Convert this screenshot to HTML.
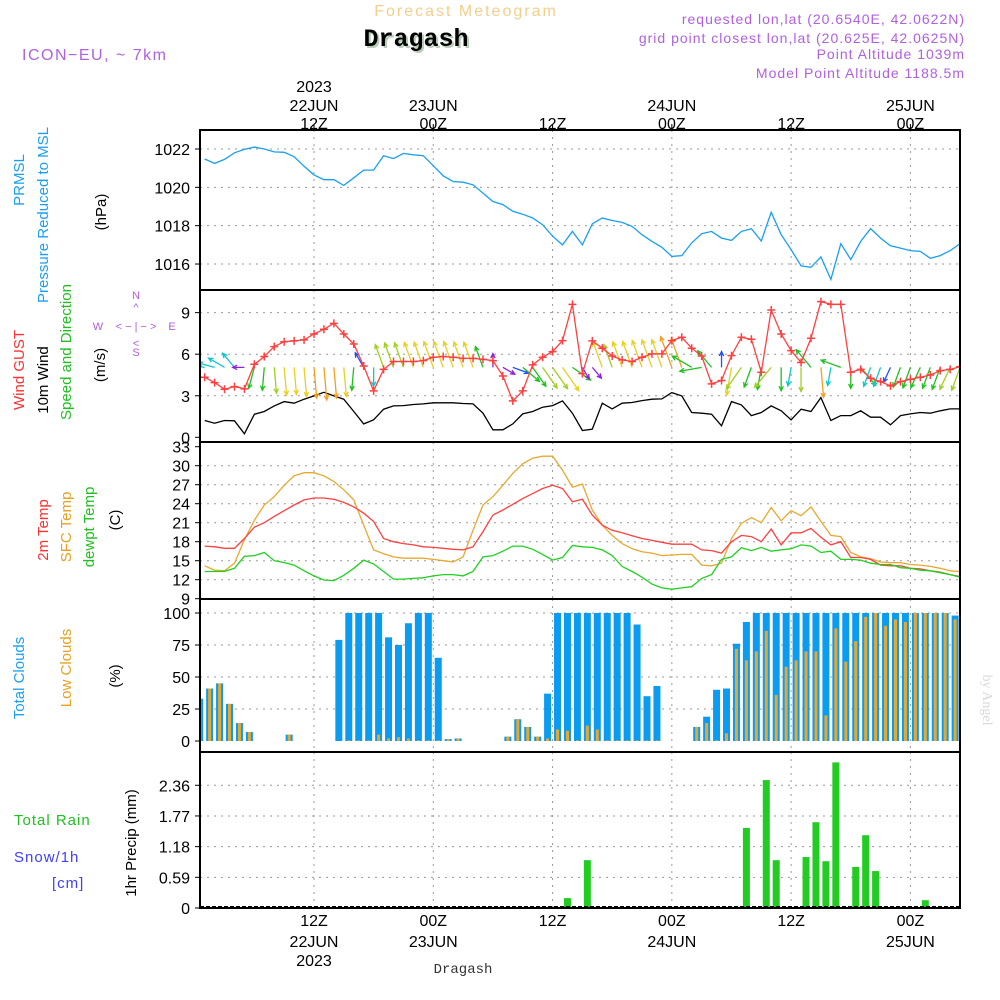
<!DOCTYPE html>
<html><head><meta charset="utf-8"><style>
html,body{margin:0;padding:0;background:#fff;}
svg{display:block;font-family:"Liberation Sans",sans-serif;}
</style></head><body>
<svg id="chart" width="1000" height="1000" viewBox="0 0 1000 1000" xmlns="http://www.w3.org/2000/svg">
<defs>
<clipPath id="clipP"><rect x="200" y="130" width="760" height="160"/></clipPath>
<clipPath id="clipW"><rect x="200" y="290" width="760" height="152"/></clipPath>
<clipPath id="clipT"><rect x="200" y="442" width="760" height="157"/></clipPath>
<clipPath id="clipC"><rect x="200" y="599" width="760" height="153"/></clipPath>
<clipPath id="clipR"><rect x="200" y="752" width="760" height="156"/></clipPath>
</defs>
<g>
<text x="466" y="16" text-anchor="middle" font-size="16" fill="#f3cf8c" letter-spacing="2">Forecast Meteogram</text>
<text x="418" y="48" text-anchor="middle" font-size="25" font-weight="bold" font-family="Liberation Mono, monospace" fill="#b8ccb8">Dragash</text>
<text x="416" y="46" text-anchor="middle" font-size="25" font-weight="bold" font-family="Liberation Mono, monospace" fill="#000">Dragash</text>
<text x="22" y="60" font-size="16" fill="#b060e0" letter-spacing="1.5">ICON−EU, ~ 7km</text>
<g font-size="14" fill="#b060e0" text-anchor="end" letter-spacing="1">
<text x="965" y="24">requested lon,lat (20.6540E, 42.0622N)</text>
<text x="965" y="43">grid point closest lon,lat (20.625E, 42.0625N)</text>
<text x="965" y="59">Point Altitude 1039m</text>
<text x="965" y="78">Model Point Altitude 1188.5m</text>
</g>
<text transform="translate(983,700) rotate(90)" text-anchor="middle" font-size="14" font-family="Liberation Serif, serif" fill="#d8d8d8">by Angel</text>
<text x="463" y="973" text-anchor="middle" font-size="14" font-family="Liberation Mono, monospace" fill="#333">Dragash</text>
</g>
<g id="grid"></g>
<g id="marksP" clip-path="url(#clipP)"></g>
<g id="marksW" clip-path="url(#clipW)"></g>
<g id="marksT" clip-path="url(#clipT)"></g>
<g id="marksC" clip-path="url(#clipC)"></g>
<g id="marksR" clip-path="url(#clipR)"></g>
<g id="axes"></g>
<g font-size="15">
<text transform="translate(24,180) rotate(-90)" text-anchor="middle" fill="#1a9ff0">PRMSL</text>
<text transform="translate(48,215) rotate(-90)" text-anchor="middle" fill="#1a9ff0">Pressure Reduced to MSL</text>
<text transform="translate(106,212) rotate(-90)" text-anchor="middle" fill="#000">(hPa)</text>
<text transform="translate(24,370) rotate(-90)" text-anchor="middle"><tspan fill="#ff3030">Wind GUST</tspan></text>
<text transform="translate(48,380) rotate(-90)" text-anchor="middle" fill="#000">10m Wind</text>
<text transform="translate(71,352) rotate(-90)" text-anchor="middle" fill="#20c020">Speed and Direction</text>
<text transform="translate(105,365) rotate(-90)" text-anchor="middle" fill="#000">(m/s)</text>
<g fill="#b060e0" font-size="11" text-anchor="middle">
<text x="136" y="299">N</text><text x="136" y="311">^</text><text x="136" y="330">&lt; − | − &gt;</text><text x="98" y="330">W</text><text x="172" y="330">E</text><text x="136" y="347">&lt;</text><text x="136" y="356">S</text>
</g>
<text transform="translate(48,530) rotate(-90)" text-anchor="middle" fill="#ff3030">2m Temp</text>
<text transform="translate(71,527) rotate(-90)" text-anchor="middle" fill="#e8a020">SFC Temp</text>
<text transform="translate(94,527) rotate(-90)" text-anchor="middle" fill="#20c020">dewpt Temp</text>
<text transform="translate(120,520) rotate(-90)" text-anchor="middle" fill="#000">(C)</text>
<text transform="translate(24,678) rotate(-90)" text-anchor="middle" fill="#1a9ff0">Total Clouds</text>
<text transform="translate(71,668) rotate(-90)" text-anchor="middle" fill="#e8a020">Low Clouds</text>
<text transform="translate(120,676) rotate(-90)" text-anchor="middle" fill="#000">(%)</text>
<text x="14" y="825" fill="#20c020" letter-spacing="1">Total  Rain</text>
<text x="14" y="862" fill="#4040ff" letter-spacing="1">Snow/1h</text>
<text x="52" y="888" fill="#4040ff" letter-spacing="1">[cm]</text>
<text transform="translate(136,843) rotate(-90)" text-anchor="middle" fill="#000">1hr Precip (mm)</text>
</g>
</svg>
<script>
const hours = []; for (let i = 0; i < 77; i++) hours.push(i - 11);
const pressure = [1021.48,1021.25,1021.46,1021.8,1021.98,1022.1,1022.0,1021.85,1021.83,1021.6,1021.1,1020.65,1020.4,1020.4,1020.1,1020.5,1020.9,1020.9,1021.65,1021.5,1021.77,1021.7,1021.65,1021.13,1020.6,1020.3,1020.27,1020.13,1019.7,1019.26,1019.1,1018.75,1018.6,1018.4,1018.05,1017.45,1017.0,1017.7,1017.0,1018.1,1018.4,1018.27,1018.17,1017.96,1017.53,1017.18,1016.87,1016.4,1016.44,1017.1,1017.58,1017.7,1017.35,1017.23,1017.7,1017.84,1017.2,1018.7,1017.53,1016.75,1015.9,1015.83,1016.37,1015.2,1017.06,1016.23,1017.18,1017.85,1017.35,1016.95,1016.83,1016.7,1016.66,1016.3,1016.44,1016.7,1017.06];
const gust = [4.34,3.95,3.47,3.66,3.5,5.27,5.83,6.55,6.9,6.96,7.03,7.46,7.8,8.23,7.46,6.74,5.15,3.35,4.9,5.47,5.47,5.47,5.54,5.78,5.83,5.78,5.7,5.7,5.63,5.54,4.43,2.63,3.35,5.23,5.78,6.19,6.98,9.6,4.6,6.96,6.43,5.87,5.59,5.47,5.78,6.02,6.02,6.98,7.22,6.43,5.87,3.86,4.1,5.9,7.22,7.08,4.7,9.19,7.46,6.26,5.4,7.15,9.8,9.6,9.6,4.7,4.9,4.26,4.02,3.71,4.02,4.19,4.34,4.5,4.81,4.9,5.1];
const windSpeed = [1.21,1.02,1.21,1.19,0.25,1.67,1.86,2.27,2.58,2.46,2.75,2.99,3.25,2.99,2.75,1.86,0.97,1.26,2.03,2.27,2.29,2.37,2.41,2.49,2.49,2.49,2.44,2.41,1.74,0.54,0.54,0.97,1.69,1.86,2.17,2.29,2.63,1.74,0.49,0.59,2.46,2.05,2.46,2.51,2.65,2.75,2.77,3.23,2.99,1.79,1.74,1.67,0.83,2.58,2.34,1.57,1.79,2.27,1.91,1.26,2.03,1.86,2.87,1.21,1.57,1.57,1.91,1.45,1.45,0.9,1.57,1.69,1.79,1.74,1.91,2.05,2.05];
const windDir = [280,285,300,320,270,195,185,175,175,175,175,175,175,175,175,185,330,180,340,340,340,340,340,340,340,340,340,340,340,0,120,110,130,145,145,145,145,125,150,140,340,340,340,340,340,340,340,340,340,300,260,320,0,190,215,200,190,220,180,190,180,320,175,190,290,180,140,200,200,205,200,200,205,200,200,205,200];
const temp2m = [17.3,17.2,16.95,16.95,18.5,20.3,21,22,22.9,23.8,24.6,24.9,24.9,24.7,24.2,23.5,22.5,21.2,18.5,18,17.7,17.5,17.2,17.1,16.95,16.8,16.7,17.2,19.6,22.2,23,23.9,24.8,25.6,26.4,26.9,26.4,24.3,24.7,22.2,20.6,19.8,19.4,18.95,18.5,18.2,17.9,17.6,17.6,17.6,16.7,16.6,16.2,18,19,18.8,18,20,17.5,19.4,19.4,20.1,18.7,17.5,18,15.5,15.5,15.2,14.3,14.2,14.2,13.8,13.7,13.4,13.2,12.8,12.5];
const sfcTemp = [14.2,13.5,13.4,14.6,18.3,21.4,23.8,25.1,26.9,28.4,28.9,28.9,28.4,27.5,26.2,24.6,20.6,16.7,16.1,15.6,15.4,15.4,15.4,15.2,15,14.8,15.6,19.8,23.8,25.1,26.9,28.8,30.3,31.2,31.5,31.5,29.3,26.6,27.1,23,20.6,19,17.7,16.9,16.4,16.2,15.8,15.9,16,16,14.3,14.2,14.6,18.5,20.9,21.8,21,23.4,21.3,22.9,22.1,23.5,21.2,19,18.8,16.3,15.6,15.3,14.8,14.7,14.7,14.4,14.3,14.1,13.8,13.4,13.3];
const dewpt = [13.3,13.3,13.3,13.8,15.7,15.8,16.3,15,14.7,14.3,13.4,12.6,11.95,11.85,12.7,13.8,15.1,14.5,13.3,12.1,12.1,12.2,12.3,12.6,12.8,12.8,12.6,13.3,15.6,15.8,16.5,17.3,17.3,16.8,16,15.1,15.5,17.4,17.2,17.1,16.7,15.8,14.1,13.3,12.4,11.3,10.7,10.5,10.7,10.9,12.2,12.8,15.2,15.6,17.05,16.6,17.1,16.5,16.7,16.9,17.5,17.3,16.3,16.5,15.2,15.2,15.1,14.6,14.4,14.4,13.9,13.8,13.5,13.4,13.1,12.8,12.4];
const totalClouds = [33,41,45,29,14,7,0,0,0,5,0,0,0,0,79,100,100,100,100,81,75,92,100,100,65,1.5,2,0,0,0,0,3.4,17,11,3.4,37,100,100,100,100,100,100,100,100,91,35,43,0,0,0,11,19,40,41,76,93,100,100,100,100,100,100,100,100,100,100,100,100,100,100,100,100,100,100,100,100,98];
const lowClouds = [33,41,45,29,14,7,0,0,0,5,0,0,0,0,0,0.5,0.5,0.5,5,2,3,2,0.5,0.5,0.5,1.5,2,0,0,0,0,3.4,17,11,3.4,2,9,8,0.5,12,9,0.5,0.5,0.5,0.5,0.5,0.5,0,0,0,11,14,0.5,6,72,63,70,86,36,58,63,70,70,20,88,62,78,97,100,90,95,93,100,100,100,100,95];
const precipBars = [0,0,0,0,0,0,0,0,0,0,0,0,0,0,0,0,0,0,0,0,0,0,0,0,0,0,0,0,0,0,0,0,0,0,0,0,0,0.19,0,0.92,0,0,0,0,0,0,0,0,0,0,0,0,0,0,0,1.54,0,2.46,0.92,0,0,0.98,1.65,0.9,2.8,0,0.79,1.4,0.71,0,0,0,0,0.15,0,0,0];
const pressureTicks = [1016,1018,1020,1022];
const windTicks = [0,3,6,9];
const tempTicks = [9,12,15,18,21,24,27,30,33];
const cloudTicks = [0,25,50,75,100];
const precipTicks = [0,0.59,1.18,1.77,2.36];
const timeTicks = [0,12,24,36,48,60];
const topTimeLabels = [["2023","22JUN","12Z"],["","23JUN","00Z"],["","","12Z"],["","24JUN","00Z"],["","","12Z"],["","25JUN","00Z"]];
const bottomTimeLabels = [["12Z","22JUN","2023"],["00Z","23JUN",""],["12Z","",""],["00Z","24JUN",""],["12Z","",""],["00Z","25JUN",""]];

const NS = "http://www.w3.org/2000/svg";
const X0 = 200, X1 = 960;
const xScale = h => 314 + 9.94 * h;
const yP = v => 149 + (1022 - v) * 19.17;
const yW = v => 437.3 - v * 13.85;
const yT = v => 465.7 + (30 - v) * 6.333;
const yC = v => 741 - v * 1.28;
const yR = v => 908 - v * 52;
const panels = [[130,290],[290,442],[442,599],[599,752],[752,908]];
const gridG = document.getElementById('grid');
const gP = document.getElementById('marksP');
const gW = document.getElementById('marksW');
const gT = document.getElementById('marksT');
const gC = document.getElementById('marksC');
const gR = document.getElementById('marksR');
const axesG = document.getElementById('axes');
function mk(tag, attrs, parent) {
  const e = document.createElementNS(NS, tag);
  for (const k in attrs) e.setAttribute(k, attrs[k]);
  parent.appendChild(e);
  return e;
}
panels.forEach(p => {
  timeTicks.forEach(t => {
    const l = mk('line', {x1: xScale(t), x2: xScale(t), y1: p[0], y2: p[1], stroke: '#999', 'stroke-dasharray': '2,5'}, gridG);
    
    
  });
});
function hGrid(ticks, sc, gridSkip) {
  ticks.forEach(v => {
    const y = sc(v);
    if (!gridSkip.includes(v)) {
      const l = mk('line', {x1: X0, x2: X1, y1: y, y2: y, stroke: '#999', 'stroke-dasharray': '2,5'}, gridG);
      
      
    }
    mk('line', {x1: X0 - 5, x2: X0, y1: y, y2: y, stroke: '#000'}, axesG);
    const t = mk('text', {x: 190, y: y + 6, 'text-anchor': 'end', 'font-size': 16, fill: '#000'}, axesG);
    
    
    t.textContent = String(v);
  });
}
hGrid(pressureTicks, yP, []);
hGrid(windTicks, yW, [0]);
hGrid(tempTicks, yT, [9,33]);
hGrid(cloudTicks, yC, [0]);
hGrid(precipTicks, yR, [0]);
panels.forEach(p => {
  const r = mk('rect', {x: X0, y: p[0], width: X1 - X0, height: p[1] - p[0], fill: 'none', stroke: '#000', 'stroke-width': 2}, axesG);
  
  
});
timeTicks.forEach((t, i) => {
  const x = xScale(t);
  mk('line', {x1: x, x2: x, y1: 130, y2: 124, stroke: '#000'}, axesG);
  const top = topTimeLabels[i];
  [92, 111, 129].forEach((y, j) => {
    if (!top[j]) return;
    const e = mk('text', {x: x, y: y, 'text-anchor': 'middle', 'font-size': 16, fill: '#000'}, axesG);
    
    
    e.textContent = top[j];
  });
  const bot = bottomTimeLabels[i];
  [926, 947, 966].forEach((y, j) => {
    if (!bot[j]) return;
    const e = mk('text', {x: x, y: y, 'text-anchor': 'middle', 'font-size': 16, fill: '#000'}, axesG);
    
    
    e.textContent = bot[j];
  });
});
function line(vals, sc, color, name, parent, w) {
  const pts = vals.map((v, i) => xScale(hours[i]).toFixed(1) + ',' + sc(v).toFixed(1)).join(' ');
  const pl = mk('polyline', {points: pts, fill: 'none', stroke: color, 'stroke-width': w || 1.3}, parent);
  
  
}
line(pressure, yP, '#1a9ff0', 'pressure-line', gP);
line(windSpeed, yW, '#000', 'wind-speed-line', gW);
function spdColor(s) {
  if (s < 0.6) return '#9020e0';
  if (s < 1.0) return '#2050ff';
  if (s < 1.5) return '#10c8c8';
  if (s < 2.0) return '#20c020';
  if (s < 2.35) return '#a0d020';
  if (s < 2.8) return '#e8d020';
  return '#f0a020';
}
windDir.forEach((d, i) => {
  const s = windSpeed[i];
  const len = 10 + 7 * s;
  const x = xScale(hours[i]), y = yW(5.05);
  const a = d * Math.PI / 180;
  const ex = x + len * Math.sin(a), ey = y - len * Math.cos(a);
  const h1 = a + Math.PI - 0.45, h2 = a + Math.PI + 0.45;
  const c = spdColor(s);
  const g = mk('path', {d: `M${x},${y}L${ex},${ey}M${ex + 5*Math.sin(h1)},${ey - 5*Math.cos(h1)}L${ex},${ey}L${ex + 5*Math.sin(h2)},${ey - 5*Math.cos(h2)}`, stroke: c, 'stroke-width': 1.3, fill: 'none'}, gW);
  
  
});
line(gust, yW, '#ff4040', 'wind-gust-line', gW);
gust.forEach((v, i) => {
  const x = xScale(hours[i]), y = yW(v);
  const m = mk('path', {d: `M${x-4},${y}H${x+4}M${x},${y-4}V${y+4}`, stroke: '#ff4040', 'stroke-width': 1.5}, gW);
  
  
});
line(sfcTemp, yT, '#e8a830', 'sfc-temp-line', gT);
line(temp2m, yT, '#ff4040', 'temp-2m-line', gT);
line(dewpt, yT, '#20d020', 'dewpoint-line', gT);
totalClouds.forEach((v, i) => {
  const x = xScale(hours[i] - 0.5);
  const r = mk('rect', {x: x - 3.5, y: yC(v), width: 7, height: yC(0) - yC(v), fill: '#0a9cf0'}, gC);
  
  
  const lv = lowClouds[i];
  const r2 = mk('rect', {x: x - 1.5, y: yC(lv), width: 3, height: yC(0) - yC(lv), fill: '#e8a830'}, gC);
  
  
});
precipBars.forEach((v, i) => {
  if (v <= 0) return;
  const x = xScale(hours[i] - 0.5);
  const r = mk('rect', {x: x - 3.5, y: yR(v), width: 7, height: yR(0) - yR(v), fill: '#22cc22'}, gR);
  
  
});
mk('line', {x1: X0, x2: X1, y1: 907, y2: 907, stroke: '#000', 'stroke-width': 2, 'stroke-dasharray': '4,2'}, gR);
</script>
</body></html>
